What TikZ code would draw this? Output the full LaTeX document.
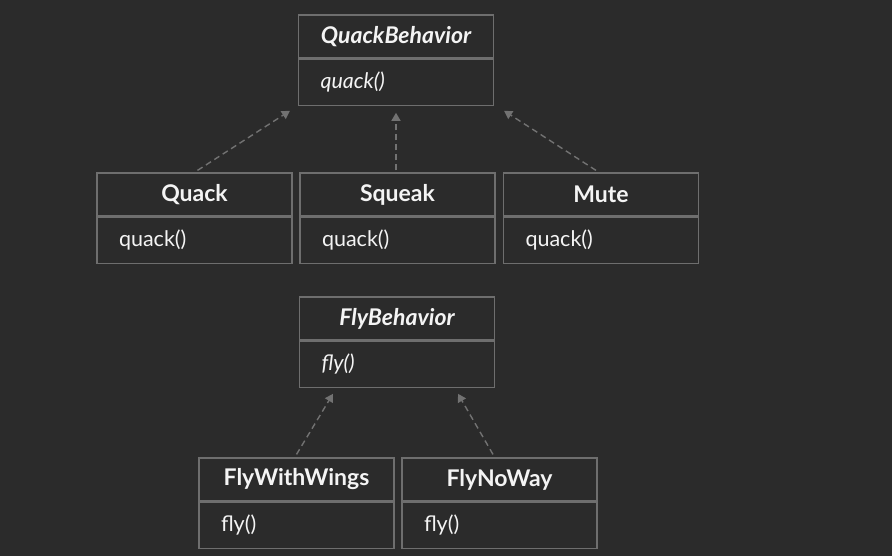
\documentclass[tikz,border=0pt]{standalone}
\usepackage{fontspec}
\setmainfont{Lato}
\usetikzlibrary{positioning,arrows.meta}
\definecolor{bgdark}{HTML}{2B2B2B}
\definecolor{boxline}{HTML}{6E6E6E}
\definecolor{arrowgray}{HTML}{727272}
\definecolor{textwhite}{HTML}{F4F4F4}

\tikzset{
  classname/.style={draw=boxline, line width=1.2pt, minimum width=195pt, minimum height=43pt,
    inner sep=0pt, text=textwhite, font=\fontsize{23}{27}\selectfont\bfseries},
  classbody/.style={draw=boxline, line width=1.2pt, minimum height=46pt, text width=151pt,
    inner xsep=22pt, inner ysep=0pt, align=left, text=textwhite, font=\fontsize{21.5}{25}\selectfont},
  realizes/.style={-{Triangle[width=9pt,length=8pt]}, arrowgray, line width=1.4pt,
    dash pattern=on 6pt off 4pt}
}

\begin{document}
\begin{tikzpicture}[x=1pt, y=-1pt]
    % Background
    \fill[bgdark] (0,0) rectangle (892,556);
    \useasboundingbox (0,0) rectangle (892,556);

    % Quack behaviour interface
    \node[classname] (qb) at (396,36.5) {\itshape QuackBehavior};
    \node[classbody, below=0pt of qb] (qbm) {\itshape quack()};

    % Quack implementations
    \node[classname] (quack) at (194.5,194.5) {Quack};
    \node[classbody, below=0pt of quack] (quackm) {quack()};
    \node[classname] (squeak) at (397.5,194.5) {Squeak};
    \node[classbody, below=0pt of squeak] (squeakm) {quack()};
    \node[classname] (mute) at (601,194.5) {Mute};
    \node[classbody, below=0pt of mute] (mutem) {quack()};

    % Fly behaviour interface
    \node[classname] (fb) at (397,318.5) {\itshape FlyBehavior};
    \node[classbody, below=0pt of fb] (fbm) {\itshape fly()};

    % Fly implementations
    \node[classname] (fww) at (296.5,479.5) {FlyWithWings};
    \node[classbody, below=0pt of fww] (fwwm) {fly()};
    \node[classname] (fnw) at (499.5,479.5) {FlyNoWay};
    \node[classbody, below=0pt of fnw] (fnwm) {fly()};

    % Realization arrows
    \draw[realizes] ([xshift=3pt,yshift=2pt]quack.north) -- ([xshift=-8pt,yshift=-5pt]qbm.south west);
    \draw[realizes] ([xshift=-1.5pt,yshift=2pt]squeak.north) -- ([yshift=-7pt]qbm.south);
    \draw[realizes] ([xshift=-5pt,yshift=2pt]mute.north) -- ([xshift=10pt,yshift=-5pt]qbm.south east);
    \draw[realizes] ([yshift=3pt]fww.north) -- ([xshift=-64pt,yshift=-6pt]fbm.south);
    \draw[realizes] ([xshift=-6.5pt,yshift=3pt]fnw.north) -- ([xshift=61pt,yshift=-6pt]fbm.south);
\end{tikzpicture}
\end{document}
